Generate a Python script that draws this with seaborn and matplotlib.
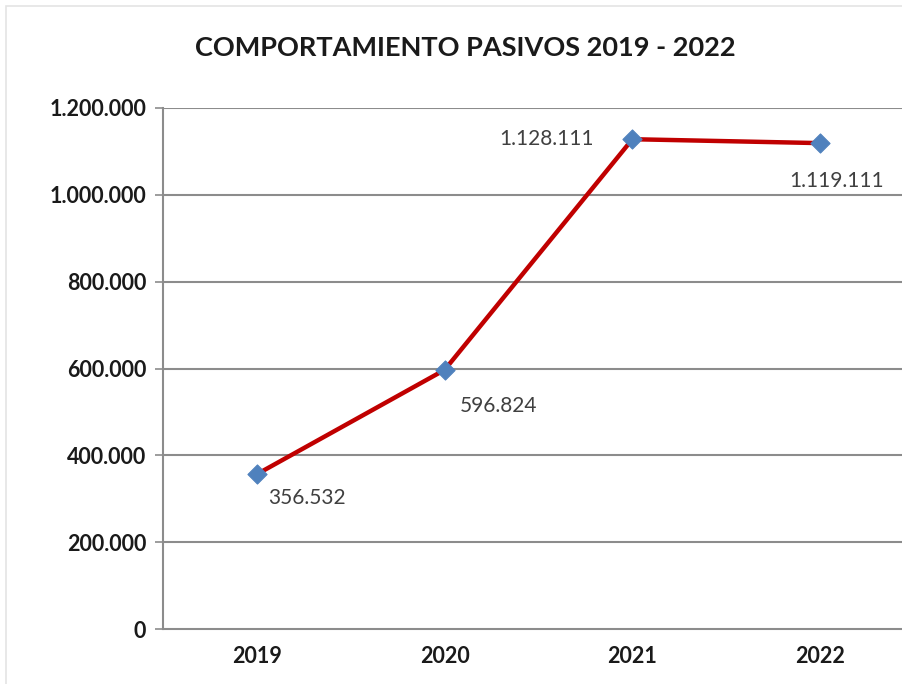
import matplotlib
matplotlib.use("Agg")
import matplotlib.pyplot as plt
import seaborn as sns
import pandas as pd
from matplotlib.patches import Rectangle

# Data
years = ["2019", "2020", "2021", "2022"]
pasivos = [356532, 596824, 1128111, 1119111]
value_labels = ["356.532", "596.824", "1.128.111", "1.119.111"]
y_ticks = [0, 200000, 400000, 600000, 800000, 1000000, 1200000]
y_tick_labels = ["0", "200.000", "400.000", "600.000", "800.000", "1.000.000", "1.200.000"]

df = pd.DataFrame({"pos": range(len(years)), "year": years, "valor": pasivos})

sns.set_theme(style="white")
plt.rcParams["font.family"] = ["Lato", "DejaVu Sans"]

fig = plt.figure(figsize=(9.02, 6.84), dpi=100)
fig.patch.set_facecolor("white")
# faint outer frame of the chart area
fig.patches.append(Rectangle((6 / 902, -0.01), 1.2, 1.0 - 6 / 684 + 0.01,
                             transform=fig.transFigure, fill=False,
                             edgecolor="#e4e4e4", linewidth=1.2))

ax = fig.add_axes([163 / 902, 55 / 684, 751 / 902, 521 / 684])

grid_col = "#8c8c8c"
for t in y_ticks[1:]:
    ax.axhline(t, color=grid_col, linewidth=1.5, zorder=1)

sns.lineplot(data=df, x="pos", y="valor", color="#C00000", linewidth=3.2,
             ax=ax, zorder=3)
sns.scatterplot(data=df, x="pos", y="valor", marker="D", s=95,
                color="#4F81BD", edgecolor="#4F81BD", ax=ax, zorder=4)

# value labels next to each point
offsets = [(8, -17, "left", "center"),
           (11, -26, "left", "center"),
           (-28, 0, "right", "center"),
           (-22, -27, "left", "center")]
for i, (dx, dy, ha, va) in enumerate(offsets):
    ax.annotate(value_labels[i], (i, pasivos[i]), xytext=(dx, dy),
                textcoords="offset points", ha=ha, va=va,
                fontsize=15, color="#404040")

ax.set_xlim(-0.5, 3.5)
ax.set_ylim(0, 1200000)
ax.set_yticks(y_ticks)
ax.set_yticklabels(y_tick_labels, fontsize=15.5, fontweight="bold", color="#1a1a1a")
ax.set_xticks(range(len(years)))
ax.set_xticklabels(years, fontsize=15.5, fontweight="bold", color="#1a1a1a")
ax.set_xticks([0.5, 1.5, 2.5], minor=True)
ax.tick_params(axis="x", which="major", length=0, pad=12)
ax.tick_params(axis="x", which="minor", length=6, width=1.2, color=grid_col, direction="out")
ax.tick_params(axis="y", length=6, width=1.2, color=grid_col, direction="out", left=True, pad=6)
ax.set_xlabel("")
ax.set_ylabel("")

for side in ["top", "right"]:
    ax.spines[side].set_visible(False)
for side in ["left", "bottom"]:
    ax.spines[side].set_color(grid_col)
    ax.spines[side].set_linewidth(1.5)

fig.text(465 / 902, 1 - 48 / 684, "COMPORTAMIENTO PASIVOS 2019 - 2022",
         ha="center", va="center", fontsize=19.5, fontweight="bold", color="#1a1a1a")

fig.savefig("out.png", dpi=100, facecolor="white")
